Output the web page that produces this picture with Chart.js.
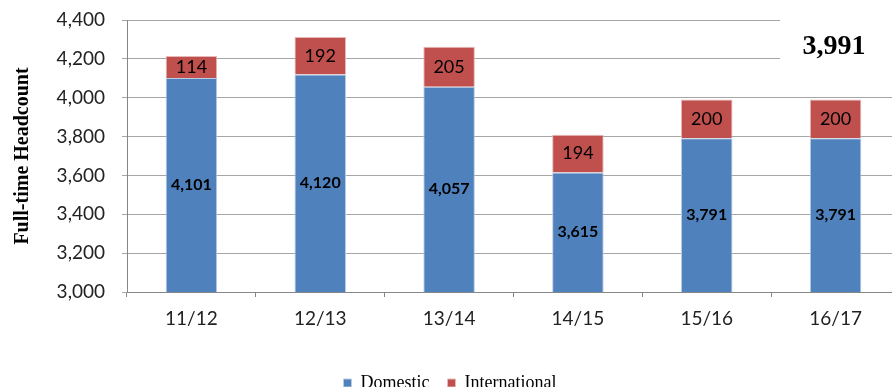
<!DOCTYPE html>
<html>
<head>
<meta charset="utf-8">
<script src="https://cdn.jsdelivr.net/npm/chart.js@4/dist/chart.umd.min.js"></script>
<style>
  html, body { margin: 0; padding: 0; background: #fff; overflow: hidden; }
  #wrap { width: 892px; height: 387px; overflow: hidden; position: relative; }
  canvas { display: block; }
</style>
</head>
<body>
<div id="wrap"><canvas id="chart" width="900" height="402"></canvas></div>
<script>
// 데이터
const years = ['11/12', '12/13', '13/14', '14/15', '15/16', '16/17'];
const domestic = [4101, 4120, 4057, 3615, 3791, 3791];
const international = [114, 192, 205, 194, 200, 200];
const yTicks = [3000, 3200, 3400, 3600, 3800, 4000, 4200, 4400];

const fmt = v => Number(v).toLocaleString('en-US');
const latestTotal = domestic[domestic.length - 1] + international[international.length - 1];

// 막대 안의 값 표시
const barLabels = {
  id: 'barLabels',
  afterDatasetsDraw(chart) {
    const { ctx, chartArea } = chart;
    ctx.save();
    ctx.textAlign = 'center';
    ctx.textBaseline = 'middle';
    ctx.fillStyle = '#000';
    chart.data.datasets.forEach((ds, i) => {
      const meta = chart.getDatasetMeta(i);
      ctx.font = i === 0 ? 'bold 16px Lato' : '18px Lato';
      meta.data.forEach((bar, j) => {
        const { x, y, base } = bar.getProps(['x', 'y', 'base'], true);
        const bottom = Math.min(base, chartArea.bottom);
        ctx.fillText(fmt(ds.data[j]), x, (y + bottom) / 2);
      });
    });
    ctx.restore();
  }
};

// 오른쪽 위 합계 상자
const totalBox = {
  id: 'totalBox',
  afterDraw(chart) {
    const { ctx, chartArea } = chart;
    ctx.save();
    ctx.fillStyle = '#fff';
    ctx.fillRect(chartArea.right - 120, chartArea.top - 10, 130, 68);
    ctx.fillStyle = '#000';
    ctx.font = 'bold 28px "Liberation Serif"';
    ctx.textAlign = 'center';
    ctx.textBaseline = 'middle';
    ctx.fillText(fmt(latestTotal), chartArea.right - 66, chartArea.top + 27);
    ctx.restore();
  }
};

new Chart(document.getElementById('chart'), {
  type: 'bar',
  data: {
    labels: years,
    datasets: [
      { label: 'Domestic', data: domestic, backgroundColor: '#4f81bd', borderColor: '#b9cde5', borderWidth: 1 },
      { label: 'International', data: international, backgroundColor: '#c0504d', borderColor: '#e6b9b8', borderWidth: 1 }
    ]
  },
  options: {
    responsive: false,
    animation: false,
    layout: { padding: { left: 0, right: 0, top: 20, bottom: 0 } },
    datasets: { bar: { categoryPercentage: 1, barPercentage: 0.4 } },
    plugins: {
      legend: {
        position: 'bottom',
        labels: {
          boxWidth: 8, boxHeight: 8, padding: 18, color: '#000',
          font: { family: 'Liberation Serif', size: 18 }
        }
      },
      tooltip: { enabled: false }
    },
    scales: {
      x: {
        stacked: true,
        afterFit: s => { s.height = 64; s.paddingLeft = 0; s.paddingRight = 0; },
        grid: { drawOnChartArea: false, drawTicks: true, tickLength: 5, color: '#868686', offset: true },
        border: { color: '#868686' },
        ticks: { color: '#222', padding: 10, font: { family: 'Lato', size: 19 } }
      },
      y: {
        stacked: true,
        min: yTicks[0],
        max: yTicks[yTicks.length - 1],
        afterFit: s => { s.width = 127; s.paddingTop = 0; s.paddingBottom = 0; },
        afterBuildTicks: s => { s.ticks = yTicks.map(v => ({ value: v })); },
        grid: { color: '#a6a6a6', tickLength: 5 },
        border: { color: '#868686' },
        ticks: { color: '#222', padding: 17, callback: v => fmt(v), font: { family: 'Lato', size: 19 } },
        title: {
          display: true,
          text: 'Full-time Headcount',
          color: '#000',
          padding: { top: 11, bottom: 0 },
          font: { family: 'Liberation Serif', size: 20, weight: 'bold' }
        }
      }
    }
  },
  plugins: [barLabels, totalBox]
});
</script>
</body>
</html>
